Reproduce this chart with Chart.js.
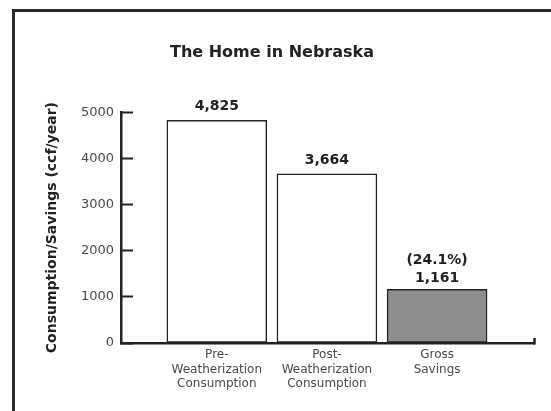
<!DOCTYPE html>
<html>
<head>
<meta charset="utf-8">
<script src="https://cdn.jsdelivr.net/npm/chart.js@4.4.1/dist/chart.umd.min.js"></script>
<style>
  html, body { margin: 0; padding: 0; background: #ffffff; }
  #wrap { position: relative; width: 551px; height: 411px; overflow: hidden; background: #ffffff; }
  #frame { position: absolute; left: 12px; top: 9px; width: 620px; height: 500px;
           border-top: 3px solid #2a2a2a; border-left: 3px solid #2a2a2a; }
  canvas { position: absolute; left: 0; top: 0; }
</style>
</head>
<body>
<div id="wrap">
  <div id="frame"></div>
  <canvas id="chart" width="551" height="411"></canvas>
</div>
<script>
// Gas use before and after weatherization, and the savings (ccf/year)
const categories = [
  ['Pre-', 'Weatherization', 'Consumption'],
  ['Post-', 'Weatherization', 'Consumption'],
  ['Gross', 'Savings']
];
const values = [4825, 3664, 1161];
const barColors = ['#ffffff', '#ffffff', '#8e8e8e'];
const yTicks = [0, 1000, 2000, 3000, 4000, 5000];

const X_MIN = -0.87;
const X_MAX = 2.88;
const FONT = '"DejaVu Sans", sans-serif';

// Text shown above each bar: the value, plus the savings share on the last bar
const savingsShare = (values[2] / values[0] * 100).toFixed(1);
const barLabels = values.map((v, i) => {
  const txt = v.toLocaleString('en-US');
  return i === 2 ? ['(' + savingsShare + '%)', txt] : [txt];
});

const valueLabels = {
  id: 'valueLabels',
  afterDatasetsDraw(chart) {
    const ctx = chart.ctx;
    const meta = chart.getDatasetMeta(0);
    ctx.save();
    ctx.font = 'bold 14px ' + FONT;
    ctx.fillStyle = '#222222';
    ctx.textAlign = 'center';
    ctx.textBaseline = 'middle';
    meta.data.forEach((bar, i) => {
      const lines = barLabels[i];
      const first = lines.length > 1 ? 11 : 14;
      for (let k = lines.length - 1, n = 0; k >= 0; k--, n++) {
        ctx.fillText(lines[k], bar.x, bar.y - first - n * 18);
      }
    });
    ctx.restore();
  }
};

new Chart(document.getElementById('chart'), {
  type: 'bar',
  data: {
    datasets: [{
      data: values.map((v, i) => ({ x: i, y: v })),
      backgroundColor: barColors,
      borderColor: '#222222',
      borderWidth: 1.5,
      borderSkipped: false,
      barThickness: 100
    }]
  },
  options: {
    responsive: false,
    animation: false,
    devicePixelRatio: 1,
    layout: { padding: { top: 20, left: 10, right: 17, bottom: 18 } },
    plugins: {
      legend: { display: false },
      tooltip: { enabled: false },
      title: {
        display: true,
        text: 'The Home in Nebraska',
        color: '#222222',
        font: { family: FONT, size: 16, weight: 'bold' },
        padding: { top: 23, bottom: 50 }
      }
    },
    scales: {
      x: {
        type: 'linear',
        min: X_MIN,
        max: X_MAX,
        offset: false,
        afterBuildTicks(scale) {
          scale.ticks = [0, 1, 2, X_MAX].map(v => ({ value: v }));
        },
        afterFit(scale) { scale.height = 50; },
        grid: {
          offset: false,
          drawOnChartArea: false,
          drawTicks: true,
          tickLength: -5,
          tickWidth: 2.5,
          tickColor: (c) => (c.tick && c.tick.value === X_MAX) ? '#222222' : 'rgba(0,0,0,0)'
        },
        border: { display: true, color: '#222222', width: 2.5 },
        ticks: {
          autoSkip: false,
          maxRotation: 0,
          padding: 10,
          color: '#4a4a4a',
          font: { family: FONT, size: 12, lineHeight: 1.2 },
          callback: (v) => (Number.isInteger(v) && categories[v]) ? categories[v] : ''
        }
      },
      y: {
        min: 0,
        max: 5000,
        afterBuildTicks(scale) {
          scale.ticks = yTicks.map(v => ({ value: v }));
        },
        afterFit(scale) { scale.width = 111; },
        grid: {
          drawOnChartArea: false,
          drawTicks: true,
          tickLength: -12,
          tickWidth: 2,
          tickColor: '#222222'
        },
        border: { display: true, color: '#222222', width: 2.5 },
        ticks: {
          padding: 19,
          color: '#4a4a4a',
          font: { family: FONT, size: 13 },
          callback: (v) => String(v)
        },
        title: {
          display: true,
          text: 'Consumption/Savings (ccf/year)',
          color: '#222222',
          font: { family: FONT, size: 14, weight: 'bold' },
          padding: { top: 34, bottom: 0 }
        }
      }
    }
  },
  plugins: [valueLabels]
});
</script>
</body>
</html>
